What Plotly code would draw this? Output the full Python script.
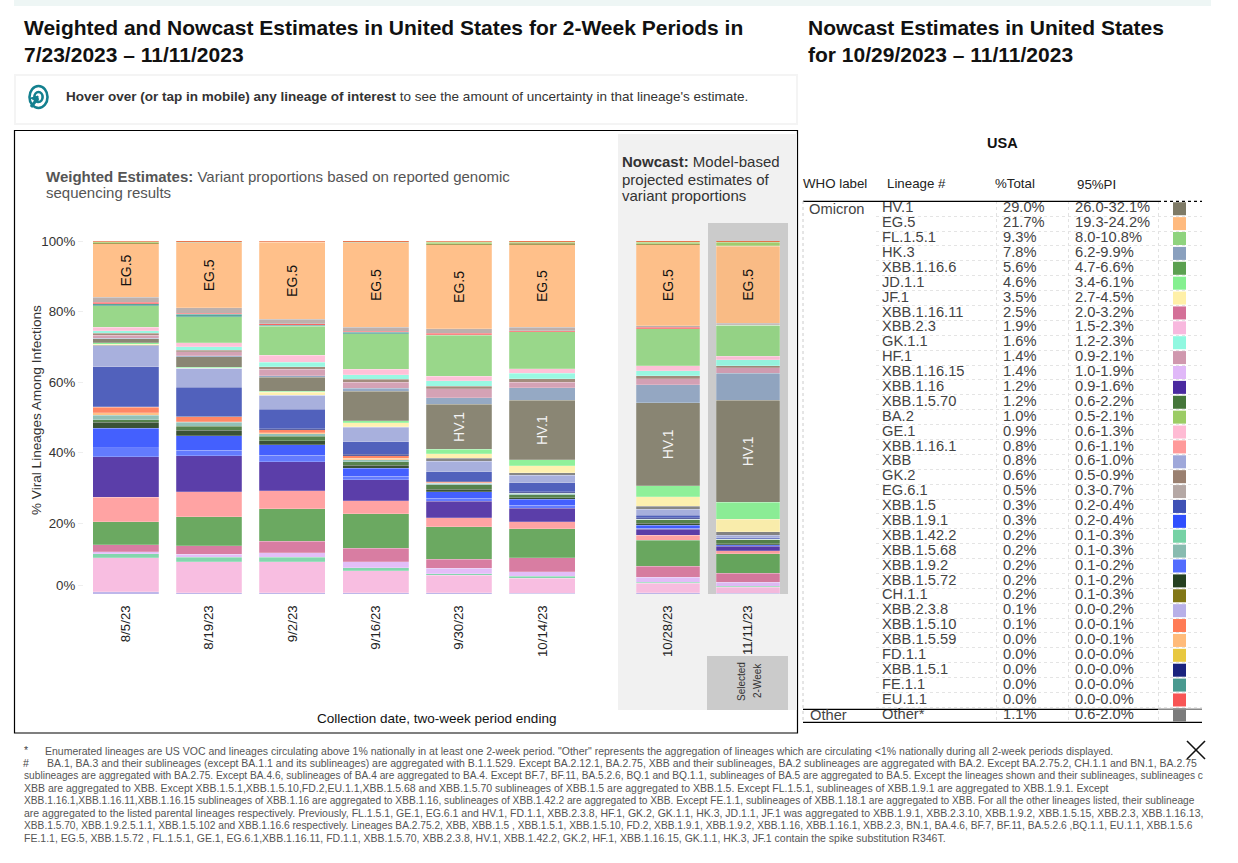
import plotly.graph_objects as go

W, H = 1238, 863
FONT = "Liberation Sans"

# ---------- data ----------
weighted_dates = ["8/5/23", "8/19/23", "9/2/23", "9/16/23", "9/30/23", "10/14/23"]
nowcast_dates = ["10/28/23", "11/11/23"]

stack_order = ["XBB.2.3.8", "XBB.2.3", "XBB.1.42.2", "XBB.1.16.15", "XBB.1.16.11", "XBB.1.16.6", "XBB.1.16.1",
               "XBB.1.16", "XBB.1.9.2", "XBB.1.9.1", "XBB.1.5.72", "XBB.1.5.70", "XBB.1.5.68", "XBB.1.5.59",
               "XBB.1.5.10", "XBB.1.5.1", "XBB.1.5", "XBB", "Other", "JF.1", "JD.1.1", "HV.1", "HK.3", "HF.1",
               "GK.2", "GK.1.1", "GE.1", "FL.1.5.1", "FE.1.1", "EU.1.1", "EG.6.1", "EG.5", "CH.1.1", "BA.2", "BQ.1.1"]

v_0805 = [.6, 9.6, 1.2, .5, 2.1, 6.4, 7.0, 11.5, 2.5, 5.5, 1.7, .8, 1.2, .8, 1.5, .2, 11.3, 5.9, .2, .2, .5, 1.1, .2, .8, .5, .8, 1.0, 6.0, .6, .4, 1.5, 15.1, .3, .3, .4]
v_0819 = [.4, 8.8, 1.2, .8, 2.5, 8.2, 7.1, 10.2, 1.5, 4.2, 1.5, 1.1, 1.2, .1, 1.4, .2, 8.1, 5.4, 0, 0, .4, 2.9, .3, 1.1, .5, .9, 1.2, 7.3, .7, .4, 1.5, 18.4, .2, 0, .5]
v_0902 = [.3, 8.9, 1.2, 1.3, 3.2, 9.3, 5.1, 8.2, 1.8, 3.0, 1.1, 1.3, .7, .3, .8, .3, 5.6, 3.9, 0, .8, .3, 4.0, .4, 1.8, .8, 1.2, 2.0, 8.2, .4, .4, 1.2, 21.8, .2, 0, .5]
v_0916 = [.3, 6.3, .8, 1.8, 3.8, 9.7, 3.7, 5.9, 1.1, 2.2, .9, .9, .7, .3, .8, .4, 3.6, 4.0, .2, 1.1, .6, 8.3, .9, 1.7, .8, 1.3, 1.5, 10.1, .5, .3, 1.1, 23.9, .2, 0, .5]
v_0930 = [.4, 4.9, .4, 1.6, 2.5, 9.2, 2.6, 4.7, .8, 1.9, .7, 1.2, .5, 0, .3, .3, 2.7, 2.9, .9, 1.3, 1.2, 12.7, 1.9, 2.5, .8, 1.5, 1.3, 11.6, .2, .4, 1.2, 23.8, .3, .4, .4]
v_1014 = [.2, 4.2, .6, 1.3, 4.0, 8.2, 1.9, 3.9, .9, 1.6, .4, .9, .4, 0, .2, .3, 2.5, 2.1, .8, 2.0, 1.6, 16.9, 3.5, 1.6, 1.0, 1.5, 1.3, 10.5, 0, .3, .9, 23.5, .3, .4, .4]
v_1028 = [.3, 2.7, .4, 1.3, 3.2, 7.3, 1.4, 1.7, .3, .9, .5, 1.1, .1, 0, .1, .3, .7, 1.7, .9, 2.6, 3.1, 23.6, 5.1, 1.7, .8, 1.5, 1.3, 10.5, 0, .4, .5, 23.0, .2, .5, .4]
v_1111 = [.2, 1.7, .3, 1.2, 2.5, 5.5, .9, 1.2, .2, .3, .2, 1.1, .2, 0, .1, 0, .3, .7, 1.1, 3.5, 4.8, 28.9, 7.7, 1.5, .6, 1.6, 1.0, 8.9, 0, .1, .4, 21.8, .2, 1.0, .4]

colors = {
    "HV.1": "#7e7a66", "EG.5": "#ffba7e", "FL.1.5.1": "#8fd37e", "HK.3": "#8aa0be", "XBB.1.16.6": "#5ba050",
    "JD.1.1": "#85f090", "JF.1": "#fff0a8", "XBB.1.16.11": "#d47098", "XBB.2.3": "#f8b8de", "GK.1.1": "#90f8e0",
    "HF.1": "#d098ae", "XBB.1.16.15": "#e0b8f8", "XBB.1.16": "#4a2aa0", "XBB.1.5.70": "#45763a", "BA.2": "#9ccc65",
    "GE.1": "#ffbbd4", "XBB.1.16.1": "#ff9a9a", "XBB": "#9fa8da", "GK.2": "#9a8070", "EG.6.1": "#b5a8a5",
    "XBB.1.5": "#3f51b5", "XBB.1.9.1": "#304ffe", "XBB.1.42.2": "#76d2a5", "XBB.1.5.68": "#88bbb0",
    "XBB.1.9.2": "#536dfe", "XBB.1.5.72": "#254020", "CH.1.1": "#827717", "XBB.2.3.8": "#b8b0e8",
    "XBB.1.5.10": "#ff7b55", "XBB.1.5.59": "#ffbb7a", "FD.1.1": "#e8c840", "XBB.1.5.1": "#1a237e",
    "FE.1.1": "#4a9a90", "EU.1.1": "#f85555", "Other": "#7b7b7b", "BQ.1.1": "#e8683a",
}

table_lineage = ["HV.1", "EG.5", "FL.1.5.1", "HK.3", "XBB.1.16.6", "JD.1.1", "JF.1", "XBB.1.16.11", "XBB.2.3", "GK.1.1",
                 "HF.1", "XBB.1.16.15", "XBB.1.16", "XBB.1.5.70", "BA.2", "GE.1", "XBB.1.16.1", "XBB", "GK.2", "EG.6.1",
                 "XBB.1.5", "XBB.1.9.1", "XBB.1.42.2", "XBB.1.5.68", "XBB.1.9.2", "XBB.1.5.72", "CH.1.1", "XBB.2.3.8",
                 "XBB.1.5.10", "XBB.1.5.59", "FD.1.1", "XBB.1.5.1", "FE.1.1", "EU.1.1", "Other"]
table_total = ["29.0%", "21.7%", "9.3%", "7.8%", "5.6%", "4.6%", "3.5%", "2.5%", "1.9%", "1.6%", "1.4%", "1.4%", "1.2%",
               "1.2%", "1.0%", "0.9%", "0.8%", "0.8%", "0.6%", "0.5%", "0.3%", "0.3%", "0.2%", "0.2%", "0.2%", "0.2%",
               "0.2%", "0.1%", "0.1%", "0.0%", "0.0%", "0.0%", "0.0%", "0.0%", "1.1%"]
table_pi = ["26.0-32.1%", "19.3-24.2%", "8.0-10.8%", "6.2-9.9%", "4.7-6.6%", "3.4-6.1%", "2.7-4.5%", "2.0-3.2%", "1.5-2.3%",
            "1.2-2.3%", "0.9-2.1%", "1.0-1.9%", "0.9-1.6%", "0.6-2.2%", "0.5-2.1%", "0.6-1.3%", "0.6-1.1%", "0.6-1.0%",
            "0.5-0.9%", "0.3-0.7%", "0.2-0.4%", "0.2-0.4%", "0.1-0.3%", "0.1-0.3%", "0.1-0.2%", "0.1-0.2%", "0.1-0.3%",
            "0.0-0.2%", "0.0-0.1%", "0.0-0.1%", "0.0-0.0%", "0.0-0.0%", "0.0-0.0%", "0.0-0.0%", "0.6-2.0%"]

footnotes = [
    (45, 750.5, 10.5, "Enumerated lineages are US VOC and lineages circulating above 1% nationally in at least one 2-week period. \"Other\" represents the aggregation of lineages which are circulating <1% nationally during all 2-week periods displayed."),
    (47, 763, 10.5, "BA.1, BA.3 and their sublineages (except BA.1.1 and its sublineages) are aggregated with B.1.1.529. Except BA.2.12.1, BA.2.75, XBB and their sublineages, BA.2 sublineages are aggregated with BA.2. Except BA.2.75.2, CH.1.1 and BN.1, BA.2.75"),
    (24, 775, 10.2, "sublineages are aggregated with BA.2.75. Except BA.4.6, sublineages of BA.4 are aggregated to BA.4. Except BF.7, BF.11, BA.5.2.6, BQ.1 and BQ.1.1, sublineages of BA.5 are aggregated to BA.5. Except the lineages shown and their sublineages, sublineages c"),
    (24, 787.5, 10.5, "XBB are aggregated to XBB. Except XBB.1.5.1,XBB.1.5.10,FD.2,EU.1.1,XBB.1.5.68 and XBB.1.5.70 sublineages of XBB.1.5 are aggregated to XBB.1.5. Except FL.1.5.1, sublineages of XBB.1.9.1 are aggregated to XBB.1.9.1. Except"),
    (24, 800, 10.2, "XBB.1.16.1,XBB.1.16.11,XBB.1.16.15 sublineages of XBB.1.16 are aggregated to XBB.1.16, sublineages of XBB.1.42.2 are aggregated to XBB. Except FE.1.1, sublineages of XBB.1.18.1 are aggregated to XBB. For all the other lineages listed, their sublineage"),
    (24, 812.5, 10.5, "are aggregated to the listed parental lineages respectively. Previously, FL.1.5.1, GE.1, EG.6.1 and HV.1, FD.1.1, XBB.2.3.8, HF.1, GK.2, GK.1.1, HK.3, JD.1.1, JF.1 was aggregated to XBB.1.9.1, XBB.2.3.10, XBB.1.9.2, XBB.1.5.15, XBB.2.3, XBB.1.16.13,"),
    (24, 825, 10.2, "XBB.1.5.70, XBB.1.9.2.5.1.1, XBB.1.5.102 and XBB.1.16.6 respectively. Lineages BA.2.75.2, XBB, XBB.1.5 , XBB.1.5.1, XBB.1.5.10, FD.2, XBB.1.9.1, XBB.1.9.2, XBB.1.16, XBB.1.16.1, XBB.2.3, BN.1, BA.4.6, BF.7, BF.11, BA.5.2.6 ,BQ.1.1, EU.1.1, XBB.1.5.6"),
    (24, 837.5, 10.5, "FE.1.1, EG.5, XBB.1.5.72 , FL.1.5.1, GE.1, EG.6.1,XBB.1.16.11, FD.1.1, XBB.1.5.70, XBB.2.3.8, HV.1, XBB.1.42.2, GK.2, HF.1, XBB.1.16.15, GK.1.1, HK.3, JF.1 contain the spike substitution R346T."),
]


# ---------- pixel helpers for layout ----------
def fx(x):
    return x / W


def fy(y):
    return 1 - y / H


shapes = []
annotations = []


def rect(x0, y0, x1, y1, fill=None, line=None, width=1, layer="below"):
    shapes.append(dict(type="rect", xref="paper", yref="paper", x0=fx(x0), x1=fx(x1), y0=fy(y1), y1=fy(y0),
                       fillcolor=fill or "rgba(0,0,0,0)", line=dict(color=line or "rgba(0,0,0,0)", width=width if line else 0),
                       layer=layer))


def hline(x0, x1, y, color="#000", width=1, dash="solid", layer="above"):
    shapes.append(dict(type="line", xref="paper", yref="paper", x0=fx(x0), x1=fx(x1), y0=fy(y), y1=fy(y),
                       line=dict(color=color, width=width, dash=dash), layer=layer))


def seg(x0, y0, x1, y1, color="#000", width=1, dash="solid"):
    shapes.append(dict(type="line", xref="paper", yref="paper", x0=fx(x0), x1=fx(x1), y0=fy(y0), y1=fy(y1),
                       line=dict(color=color, width=width, dash=dash), layer="above"))


def label(x, y, text, size=13, color="#333", anchor="left", angle=0):
    offs = -2 if anchor == "left" else 0
    annotations.append(dict(xref="paper", yref="paper", x=fx(x + offs), y=fy(y), text=text, showarrow=False,
                            xanchor=anchor, yanchor="middle", textangle=angle, align="left",
                            font=dict(family=FONT, size=size, color=color)))


# ---------- page furniture ----------
rect(14, 0, 1211, 6, fill="#eef6f5")
rect(15, 75, 797, 124, fill="#ffffff", line="#f4f4f4", width=2)
rect(14.5, 130.5, 797.5, 733, fill="#ffffff", line="#000000", width=1.2)
rect(618, 134, 797, 710, fill="#f1f1f1")
rect(708, 223, 788, 594, fill="#cbcbcb")
rect(707, 656, 788, 710, fill="#cbcbcb")

# icon
for r, wd in ((11, 2.6), (5, 2.6)):
    shapes.append(dict(type="circle", xref="paper", yref="paper", x0=fx(38.5 - r * 0.82), x1=fx(38.5 + r * 0.82),
                       y0=fy(97 + r), y1=fy(97 - r), line=dict(color="#13808f", width=wd), layer="above"))
seg(38, 98, 31, 107, color="#13808f", width=3)
shapes.append(dict(type="path", xref="paper", yref="paper", layer="above", fillcolor="#13808f",
                   line=dict(color="#13808f", width=1),
                   path=f"M {fx(38)} {fy(96)} L {fx(31)} {fy(98)} L {fx(38)} {fy(103)} Z"))

label(24, 28, "<b>Weighted and Nowcast Estimates in United States for 2-Week Periods in</b>", 21, "#111")
label(24, 55, "<b>7/23/2023 – 11/11/2023</b>", 21, "#111")
label(808, 28, "<b>Nowcast Estimates in United States</b>", 21, "#111")
label(808, 55, "<b>for 10/29/2023 – 11/11/2023</b>", 21, "#111")
label(66, 97, "<b>Hover over (or tap in mobile) any lineage of interest</b> to see the amount of uncertainty in that lineage's estimate.", 13.5, "#333")
label(46, 176, "<b>Weighted Estimates:</b> Variant proportions based on reported genomic", 15, "#555")
label(46, 193, "sequencing results", 15, "#555")
label(622, 162, "<b>Nowcast:</b> Model-based", 15, "#333")
label(622, 179, "projected estimates of", 15, "#333")
label(622, 196, "variant proportions", 15, "#333")
label(436, 718, "Collection date, two-week period ending", 13.5, "#111", anchor="center")
label(36, 410, "% Viral Lineages Among Infections", 13.6, "#333", anchor="center", angle=-90)
label(741, 682, "Selected", 10, "#333", anchor="center", angle=-90)
label(757, 681, "2-Week", 10, "#333", anchor="center", angle=-90)

# ---------- table furniture ----------
label(1002, 143, "<b>USA</b>", 14.5, "#111", anchor="center")
label(803, 184, "WHO label", 13.3, "#222")
label(886.5, 184, "Lineage #", 13.3, "#222")
label(995, 184, "%Total", 13.3, "#222")
label(1076.5, 184.5, "95%PI", 13.3, "#222")
label(809, 209, "Omicron", 14.7, "#444")
label(810, 715, "Other", 14.7, "#444")
hline(803, 1158, 201.3, width=1.2)
hline(1158, 1202, 201.3, width=1.2, dash="dot")
hline(803, 1158, 709.3, width=1.2)
hline(1158, 1202, 709.3, color="#888", width=1.6)
hline(803, 1202, 722.3, width=1.2)
seg(803, 201, 803, 722, color="#cccccc", width=1, dash="dot")

# close icon
seg(1187, 741, 1205, 759, color="#111", width=1.6)
seg(1205, 741, 1187, 759, color="#111", width=1.6)

# footnotes
label(24, 750, "*", 10.5, "#444")
label(23, 763, "#", 10.5, "#444")
for x, y, s, t in footnotes:
    label(x, y, t, s, "#555")

# ---------- bars ----------
fig = go.Figure()
weighted_rows = [v_0805, v_0819, v_0902, v_0916, v_0930, v_1014]
nowcast_rows = [v_1028, v_1111]


def add_bars(dates, rows, xa, ya):
    for i, name in enumerate(stack_order):
        vals = [r[i] for r in rows]
        text = None
        color = "#111"
        if name == "EG.5":
            text = ["EG.5"] * len(dates)
        elif name == "HV.1":
            text = ["HV.1" if v > 12 else "" for v in vals]
            color = "#f4f4f4"
        fig.add_trace(go.Bar(
            x=dates, y=vals, name=name, xaxis=xa, yaxis=ya, showlegend=False,
            marker=dict(color=colors[name], opacity=0.9, line=dict(color="rgba(255,255,255,0.35)", width=0.6)),
            text=text, textposition="inside" if text else "none", insidetextanchor="middle",
            textangle=-90, constraintext="none",
            insidetextfont=dict(family=FONT, size=14, color=color),
            hovertemplate=name + ": %{y}%<extra></extra>",
        ))


add_bars(weighted_dates, weighted_rows, "x", "y")
add_bars(nowcast_dates, nowcast_rows, "x2", "y2")

# ---------- table rows ----------
rows = list(range(len(table_lineage)))
COL_LINEAGE, COL_TOTAL, COL_PI, COL_SWATCH = 882, 1003, 1075, 1179.5
for xval, texts in ((COL_LINEAGE, [("Other*" if t == "Other" else t) for t in table_lineage]),
                    (COL_TOTAL, table_total), (COL_PI, table_pi)):
    fig.add_trace(go.Scatter(x=[xval] * len(rows), y=rows, text=texts, mode="text", textposition="middle right",
                             textfont=dict(family=FONT, size=14.7, color="#444"), xaxis="x3", yaxis="y3",
                             showlegend=False, hoverinfo="skip", cliponaxis=False))
fig.add_trace(go.Scatter(x=[COL_SWATCH] * len(rows), y=rows, mode="markers", xaxis="x3", yaxis="y3", showlegend=False,
                         marker=dict(symbol="square", size=13, color=[colors[t] for t in table_lineage],
                                     line=dict(width=0)),
                         text=table_lineage, hoverinfo="text", cliponaxis=False))

TICK = dict(family=FONT, size=13.3, color="#222")
fig.update_layout(
    width=W, height=H, margin=dict(l=0, r=0, t=0, b=0, autoexpand=False), autosize=False,
    paper_bgcolor="#ffffff", plot_bgcolor="rgba(0,0,0,0)", barmode="stack", bargap=0.21,
    shapes=shapes, annotations=annotations, font=dict(family=FONT),
    xaxis=dict(domain=[fx(84), fx(584)], range=[-0.5, 5.5], type="category", anchor="y", tickangle=-90, tickfont=TICK,
               ticks="outside", ticklen=5, tickcolor="rgba(0,0,0,0)", showgrid=False, showline=False, zeroline=False),
    yaxis=dict(domain=[fy(594), fy(241)], range=[0, 100], anchor="x", tickvals=[2.5, 20, 40, 60, 80, 100],
               ticktext=["0%", "20%", "40%", "60%", "80%", "100%"], tickfont=dict(family=FONT, size=13.3, color="#333"),
               ticks="outside", ticklen=5, tickcolor="#eeeeee", showgrid=False, showline=False, zeroline=False),
    xaxis2=dict(domain=[fx(628), fx(788)], range=[-0.5, 1.5], type="category", anchor="y2", tickangle=-90, tickfont=TICK,
                ticks="outside", ticklen=5, tickcolor="rgba(0,0,0,0)", showgrid=False, showline=False, zeroline=False),
    yaxis2=dict(domain=[fy(594), fy(241)], range=[0, 100], anchor="x2", visible=False),
    xaxis3=dict(domain=[fx(876), fx(1202)], range=[876, 1202], anchor="y3", tickvals=[876, 996, 1068, 1158, 1202],
                showticklabels=False, ticks="", showgrid=True, gridcolor="#e2e2e2", griddash="dot", gridwidth=1,
                zeroline=False, showline=False),
    yaxis3=dict(domain=[fy(722.3), fy(201.3)], range=[34.5, -0.5], anchor="x3",
                tickvals=[r + 0.5 for r in rows[:-1]], showticklabels=False, ticks="", showgrid=True,
                gridcolor="#e4e4e4", griddash="dot", gridwidth=1, zeroline=False, showline=False),
)

fig.write_html("out.html", config=dict(displayModeBar=False),
               post_script="document.body.style.margin='0';document.documentElement.style.overflow='hidden';")
